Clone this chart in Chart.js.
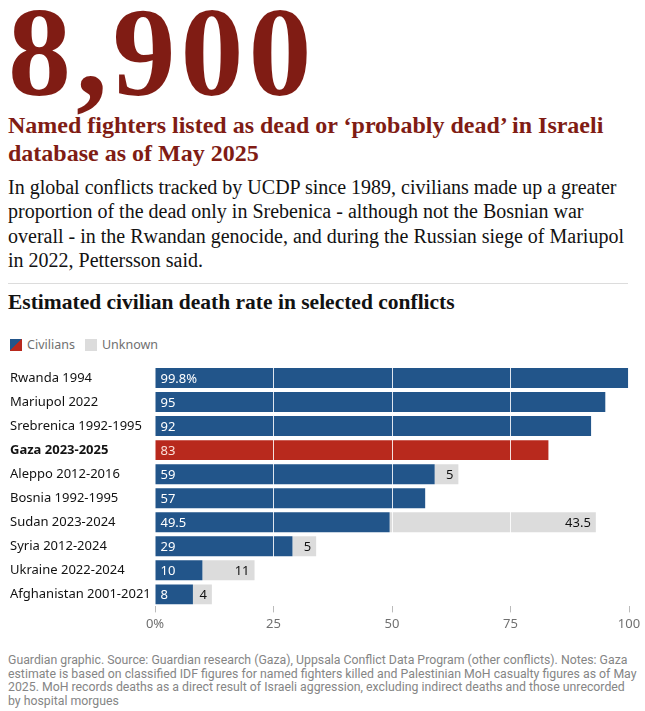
<!DOCTYPE html>
<html>
<head>
<meta charset="utf-8">
<script src="https://cdn.jsdelivr.net/npm/chart.js@4.4.1/dist/chart.umd.min.js"></script>
<style>
  body { margin: 0; background: #fff; width: 645px; height: 711px; position: relative; overflow: hidden; }
  .blk { position: absolute; left: 8px; }
  #big { top: -10px; font-family: "Liberation Serif", serif; font-weight: bold; font-size: 126px; line-height: 1; color: #801c14; letter-spacing: 5px; }
  #sub { top: 111px; width: 635px; font-family: "Liberation Serif", serif; font-weight: bold; font-size: 24px; line-height: 28px; color: #801c14; }
  #body { top: 175px; width: 630px; font-family: "Liberation Serif", serif; font-size: 20px; line-height: 24.4px; color: #121212; }
  #rule { position: absolute; left: 8px; top: 283px; width: 620px; border-top: 1px solid #dcdcdc; }
  #ctitle { top: 289px; font-family: "Liberation Serif", serif; font-weight: bold; font-size: 21.5px; line-height: 26px; color: #121212; }
  #legend { top: 336px; left: 10px; font-family: "Noto Sans", sans-serif; font-size: 12.5px; color: #707070; }
  #legend span.sw { display: inline-block; width: 12px; height: 12px; vertical-align: -2px; margin-right: 5px; }
  #legend span.item { margin-right: 10px; }
  #wrap { position: absolute; left: 0; top: 356px; width: 645px; height: 280px; }
  #foot { top: 654px; width: 630px; font-family: "Roboto", sans-serif; font-size: 12.3px; line-height: 13.5px; color: #858585; }
</style>
</head>
<body>
<div class="blk" id="big">8,900</div>
<div class="blk" id="sub">Named fighters listed as dead or ‘probably dead’ in Israeli database as of May 2025</div>
<div class="blk" id="body">In global conflicts tracked by UCDP since 1989, civilians made up a greater proportion of the dead only in Srebenica - although not the Bosnian war overall - in the Rwandan genocide, and during the Russian siege of Mariupol in 2022, Pettersson said.</div>
<div id="rule"></div>
<div class="blk" id="ctitle">Estimated civilian death rate in selected conflicts</div>
<div class="blk" id="legend"><span class="item"><span class="sw" style="background: linear-gradient(135deg, #22558a 50%, #b8291d 50%);"></span>Civilians</span><span class="item"><span class="sw" style="background:#dcdcdc;"></span>Unknown</span></div>
<div id="wrap"><canvas id="chart"></canvas></div>
<div class="blk" id="foot">Guardian graphic. Source: Guardian research (Gaza), Uppsala Conflict Data Program (other conflicts). Notes: Gaza estimate is based on classified IDF figures for named fighters killed and Palestinian MoH casualty figures as of May 2025. MoH records deaths as a direct result of Israeli aggression, excluding indirect deaths and those unrecorded by hospital morgues</div>

<script>
var conflicts = ["Rwanda 1994", "Mariupol 2022", "Srebrenica 1992-1995", "Gaza 2023-2025", "Aleppo 2012-2016",
                 "Bosnia 1992-1995", "Sudan 2023-2024", "Syria 2012-2024", "Ukraine 2022-2024", "Afghanistan 2001-2021"];
var civilians = [99.8, 95, 92, 83, 59, 57, 49.5, 29, 10, 8];
var unknown = [0, 0, 0, 0, 5, 0, 43.5, 5, 11, 4];
var xTicks = [0, 25, 50, 75, 100];

var BLUE = '#22558a', RED = '#b8291d', GREY = '#dcdcdc';
var highlight = "Gaza 2023-2025";

var barLabels = {
    id: 'barLabels',
    afterDatasetsDraw: function (chart) {
        var ctx = chart.ctx;
        ctx.save();
        ctx.font = '13px "Noto Sans", sans-serif';
        ctx.textBaseline = 'middle';
        chart.getDatasetMeta(0).data.forEach(function (bar, i) {
            ctx.fillStyle = conflicts[i] == highlight ? '#fbe0da' : '#ffffff';
            ctx.textAlign = 'left';
            var txt = i == 0 ? civilians[i] + '%' : String(civilians[i]);
            ctx.fillText(txt, bar.base + 5, bar.y + 1);
        });
        chart.getDatasetMeta(1).data.forEach(function (bar, i) {
            if (!unknown[i]) return;
            ctx.fillStyle = '#121212';
            ctx.textAlign = 'right';
            ctx.fillText(String(unknown[i]), bar.x - 5, bar.y + 1);
        });
        ctx.restore();
    }
};

var chart = new Chart(document.getElementById('chart').getContext('2d'), {
    type: 'bar',
    data: {
        labels: conflicts,
        datasets: [{
            label: 'Civilians',
            data: civilians,
            backgroundColor: conflicts.map(function (c) { return c == highlight ? RED : BLUE; }),
            barPercentage: 0.83,
            categoryPercentage: 1
        }, {
            label: 'Unknown',
            data: unknown,
            backgroundColor: GREY,
            barPercentage: 0.83,
            categoryPercentage: 1
        }]
    },
    options: {
        indexAxis: 'y',
        responsive: true,
        maintainAspectRatio: false,
        animation: false,
        layout: { padding: { left: 10, right: 16, top: 10, bottom: 0 } },
        plugins: { legend: { display: false }, tooltip: { enabled: false } },
        scales: {
            x: {
                stacked: true,
                min: 0,
                max: 100,
                afterBuildTicks: function (scale) {
                    scale.ticks = xTicks.map(function (v) { return { value: v }; });
                },
                grid: {
                    z: 1,
                    color: function (c) { return (c.tick && (c.tick.value == 0 || c.tick.value == 100)) ? 'rgba(0,0,0,0)' : 'rgba(255,255,255,0.85)'; },
                    tickColor: '#bbbbbb',
                    tickLength: 6,
                    lineWidth: 1
                },
                border: { display: false },
                ticks: {
                    color: '#707070',
                    font: { family: 'Noto Sans', size: 13 },
                    padding: 4,
                    callback: function (v) { return v == 0 ? '0%' : v; }
                }
            },
            y: {
                stacked: true,
                grid: { display: false },
                border: { display: false },
                afterFit: function (scale) { scale.width = 145; },
                ticks: {
                    crossAlign: 'far',
                    color: '#121212',
                    padding: 0,
                    font: function (c) {
                        var bold = c.tick && conflicts[c.index] == highlight;
                        return { family: 'Noto Sans', size: 13, weight: bold ? 'bold' : 'normal' };
                    }
                }
            }
        }
    },
    plugins: [barLabels]
});
</script>
</body>
</html>
